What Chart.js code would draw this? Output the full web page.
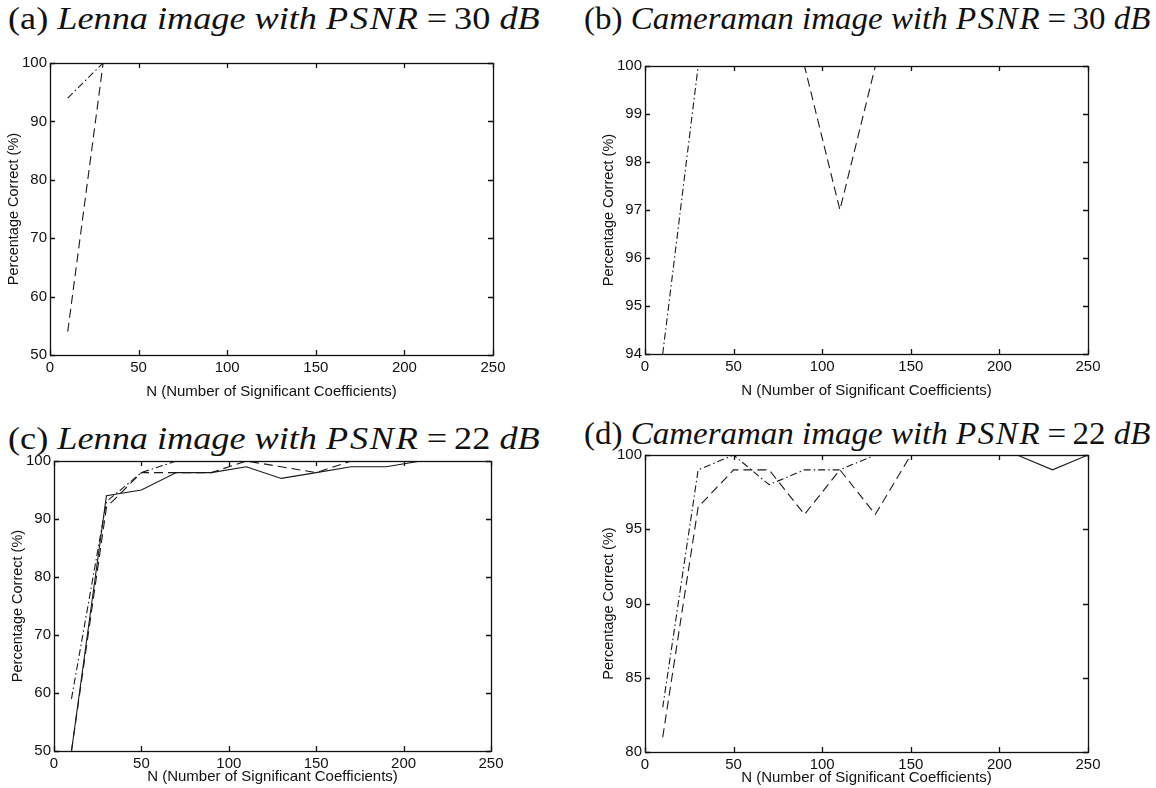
<!DOCTYPE html>
<html>
<head>
<meta charset="utf-8">
<script src="https://cdn.jsdelivr.net/npm/chart.js@4/dist/chart.umd.min.js"></script>
<style>
  html, body { margin: 0; padding: 0; background: #fff; }
  #page { position: relative; width: 1156px; height: 788px; overflow: hidden; }
  .panel { position: absolute; }
  .title {
    position: absolute; white-space: nowrap; color: #111;
    font-family: "Liberation Serif", "DejaVu Serif", serif; font-size: 31px;
    transform-origin: 0 0;
  }
  .title i { font-style: italic; }
  .title .m { font-style: italic; letter-spacing: 1.5px; }
  .title .eq { margin: 0 6px; }
</style>
</head>
<body>
<div id="page">
  <div class="title" data-w="532" style="left:8px; top:1px;">(a) <i>Lenna image with</i> <span class="m">PSNR</span><span class="eq">=</span>30 <i>dB</i></div>
  <div class="title" data-w="566" style="left:584px; top:1px;">(b) <i>Cameraman image with</i> <span class="m">PSNR</span><span class="eq">=</span>30 <i>dB</i></div>
  <div class="title" data-w="532" style="left:8px; top:421px;">(c) <i>Lenna image with</i> <span class="m">PSNR</span><span class="eq">=</span>22 <i>dB</i></div>
  <div class="title" data-w="566" style="left:584px; top:416px;">(d) <i>Cameraman image with</i> <span class="m">PSNR</span><span class="eq">=</span>22 <i>dB</i></div>
</div>
<script>
// N values (number of significant coefficients)
var nValues = [10, 30, 50, 70, 90, 110, 130, 150, 170, 190, 210, 230, 250];
var xTicks = [0, 50, 100, 150, 200, 250];

// (a) Lenna, PSNR 30 dB
var lenna30Solid   = [100, 100, 100, 100, 100, 100, 100, 100, 100, 100, 100, 100, 100];
var lenna30Dashed  = [54, 100, 100, 100, 100, 100, 100, 100, 100, 100, 100, 100, 100];
var lenna30DashDot = [94, 100, 100, 100, 100, 100, 100, 100, 100, 100, 100, 100, 100];
var lenna30YTicks  = [50, 60, 70, 80, 90, 100];

// (b) Cameraman, PSNR 30 dB
var camera30Solid   = [100, 100, 100, 100, 100, 100, 100, 100, 100, 100, 100, 100, 100];
var camera30Dashed  = [100, 100, 100, 100, 100, 97, 100, 100, 100, 100, 100, 100, 100];
var camera30DashDot = [94, 100, 100, 100, 100, 100, 100, 100, 100, 100, 100, 100, 100];
var camera30YTicks  = [94, 95, 96, 97, 98, 99, 100];

// (c) Lenna, PSNR 22 dB
var lenna22Solid   = [50, 94, 95, 98, 98, 99, 97, 98, 99, 99, 100, 100, 100];
var lenna22Dashed  = [50, 92, 98, 98, 98, 100, 99, 98, 100, 100, 100, 100, 100];
var lenna22DashDot = [59, 93, 98, 100, 100, 100, 100, 100, 100, 100, 100, 100, 100];
var lenna22YTicks  = [50, 60, 70, 80, 90, 100];

// (d) Cameraman, PSNR 22 dB
var camera22Solid   = [100, 100, 100, 100, 100, 100, 100, 100, 100, 100, 100, 99, 100];
var camera22Dashed  = [81, 96.5, 99, 99, 96, 99, 96, 100, 100, 100, 100, 100, 100];
var camera22DashDot = [83, 99, 100, 98, 99, 99, 100, 100, 100, 100, 100, 100, 100];
var camera22YTicks  = [80, 85, 90, 95, 100];

var LINE = '#1a1a1a';
var AXIS_FONT = { family: 'Liberation Sans, Arial, sans-serif', size: 15 };

// stretch the serif titles to the width they take in the figure
document.querySelectorAll('.title').forEach(function (el) {
  var s = Number(el.getAttribute('data-w')) / el.offsetWidth;
  el.style.transform = 'scaleX(' + s.toFixed(3) + ')';
});

function points(ys) {
  return nValues.map(function (n, i) { return { x: n, y: ys[i] }; });
}

// matlab style box with inward ticks
var boxPlugin = {
  id: 'box',
  afterDraw: function (chart) {
    var ctx = chart.ctx, a = chart.chartArea;
    var xs = chart.scales.x, ys = chart.scales.y;
    ctx.save();
    ctx.strokeStyle = '#111';
    ctx.lineWidth = 1.3;
    ctx.strokeRect(a.left + 0.5, a.top + 0.5, a.right - a.left, a.bottom - a.top);
    ctx.beginPath();
    xs.ticks.forEach(function (t) {
      var px = Math.round(xs.getPixelForValue(t.value)) + 0.5;
      ctx.moveTo(px, a.bottom); ctx.lineTo(px, a.bottom - 5);
      ctx.moveTo(px, a.top); ctx.lineTo(px, a.top + 5);
    });
    ys.ticks.forEach(function (t) {
      var py = Math.round(ys.getPixelForValue(t.value)) + 0.5;
      ctx.moveTo(a.left, py); ctx.lineTo(a.left + 5, py);
      ctx.moveTo(a.right, py); ctx.lineTo(a.right - 5, py);
    });
    ctx.stroke();
    ctx.restore();
  }
};

function makePanel(id, box, series, yTicks, xAxisH) {
  var padL = 52, padT = 12, padR = 20;
  var w = box.right - box.left + padL + padR;
  var h = box.bottom - box.top + padT + xAxisH;
  var div = document.createElement('div');
  div.className = 'panel';
  div.style.left = (box.left - padL) + 'px';
  div.style.top = (box.top - padT) + 'px';
  div.style.width = w + 'px';
  div.style.height = h + 'px';
  var canvas = document.createElement('canvas');
  canvas.id = id;
  div.appendChild(canvas);
  document.getElementById('page').appendChild(div);

  var styles = [
    { dash: [], width: 1.1 },
    { dash: [9, 5], width: 1.1 },
    { dash: [7, 3, 1.5, 3], width: 1.1 }
  ];

  return new Chart(canvas, {
    type: 'line',
    data: {
      datasets: series.map(function (s, i) {
        return {
          data: points(s),
          borderColor: LINE,
          borderWidth: styles[i].width,
          borderDash: styles[i].dash,
          pointRadius: 0,
          tension: 0,
          fill: false
        };
      })
    },
    options: {
      responsive: true,
      maintainAspectRatio: false,
      animation: false,
      layout: { padding: { top: padT, right: padR, left: 0, bottom: 0 } },
      plugins: { legend: { display: false }, tooltip: { enabled: false } },
      scales: {
        x: {
          type: 'linear', min: 0, max: 250,
          afterBuildTicks: function (s) { s.ticks = xTicks.map(function (v) { return { value: v }; }); },
          afterFit: function (s) { s.height = xAxisH; },
          grid: { drawOnChartArea: false, drawTicks: false },
          border: { display: false },
          ticks: { color: '#111', font: AXIS_FONT, padding: 4, maxRotation: 0 },
          title: { display: true, text: 'N (Number of Significant Coefficients)', color: '#111', font: AXIS_FONT, padding: { top: 0, bottom: 1 } }
        },
        y: {
          type: 'linear', min: yTicks[0], max: yTicks[yTicks.length - 1],
          afterBuildTicks: function (s) { s.ticks = yTicks.map(function (v) { return { value: v }; }); },
          afterFit: function (s) { s.width = padL; },
          grid: { drawOnChartArea: false, drawTicks: false },
          border: { display: false },
          ticks: { color: '#111', font: AXIS_FONT, padding: 3 },
          title: { display: true, text: 'Percentage Correct (%)', color: '#111', font: { family: AXIS_FONT.family, size: 14.5 }, padding: { top: 7, bottom: 0 } }
        }
      }
    },
    plugins: [boxPlugin]
  });
}

makePanel('chart-a', { left: 50, top: 63, right: 493, bottom: 355 },
  [lenna30Solid, lenna30Dashed, lenna30DashDot], lenna30YTicks, 47);
makePanel('chart-b', { left: 645, top: 66, right: 1088, bottom: 354 },
  [camera30Solid, camera30Dashed, camera30DashDot], camera30YTicks, 47);
makePanel('chart-c', { left: 54, top: 461, right: 491, bottom: 751 },
  [lenna22Solid, lenna22Dashed, lenna22DashDot], lenna22YTicks, 36);
makePanel('chart-d', { left: 645, top: 455, right: 1088, bottom: 752 },
  [camera22Solid, camera22Dashed, camera22DashDot], camera22YTicks, 36);
</script>
</body>
</html>
